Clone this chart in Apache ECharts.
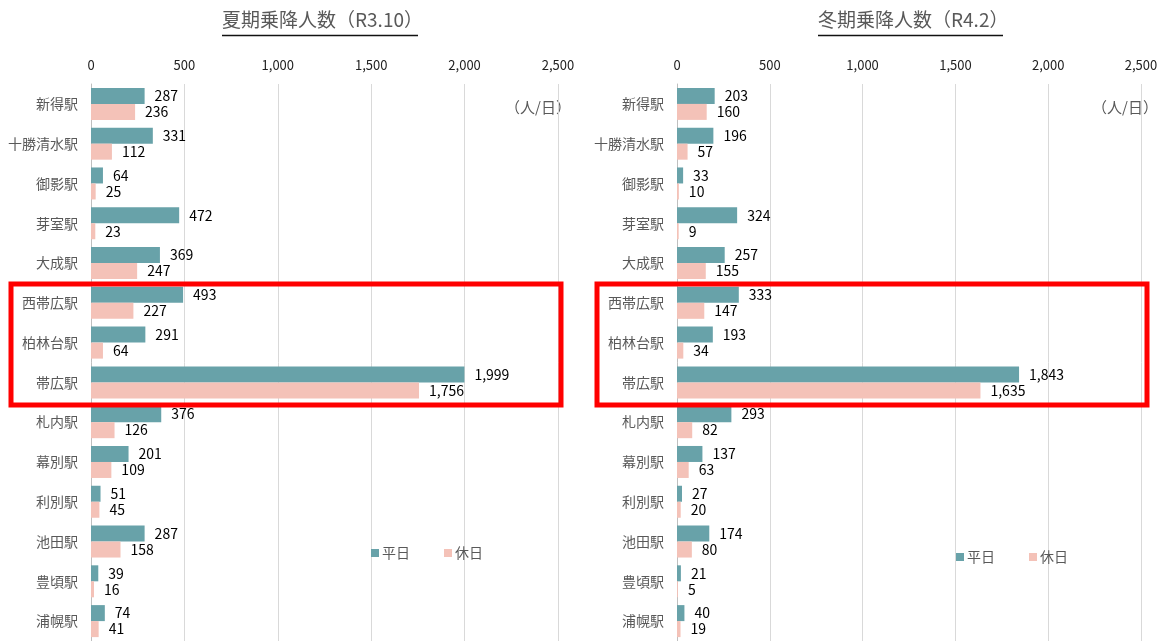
<!DOCTYPE html>
<html lang="ja">
<head>
<meta charset="UTF-8">
<title>乗降人数</title>
<script src="https://cdn.jsdelivr.net/npm/echarts@6/dist/echarts.min.js"></script>
<style>
  html, body { margin: 0; padding: 0; background: #fff; }
  #chart { width: 1166px; height: 641px; }
</style>
</head>
<body>
<div id="chart"></div>
<script>
// 駅名
const stations = ['新得駅', '十勝清水駅', '御影駅', '芽室駅', '大成駅', '西帯広駅', '柏林台駅',
  '帯広駅', '札内駅', '幕別駅', '利別駅', '池田駅', '豊頃駅', '浦幌駅'];
// 夏期 (R3.10)
const summerWeekday = [287, 331, 64, 472, 369, 493, 291, 1999, 376, 201, 51, 287, 39, 74];
const summerHoliday = [236, 112, 25, 23, 247, 227, 64, 1756, 126, 109, 45, 158, 16, 41];
// 冬期 (R4.2)
const winterWeekday = [203, 196, 33, 324, 257, 333, 193, 1843, 293, 137, 27, 174, 21, 40];
const winterHoliday = [160, 57, 10, 9, 155, 147, 34, 1635, 82, 63, 20, 80, 5, 19];
const seriesNames = ['平日', '休日'];

const FONT = '"Noto Sans CJK JP", "Noto Sans", sans-serif';
const TEAL = '#68a2a9';
const PINK = '#f4c2b8';
const fmt = v => Number(v).toLocaleString('en-US');

function xAxis(idx) {
  return {
    gridIndex: idx, type: 'value', position: 'top', min: 0, max: 2500, interval: 500,
    axisLine: { show: false }, axisTick: { show: false },
    axisLabel: { color: '#222', fontSize: 13, fontFamily: FONT, margin: 12, formatter: fmt },
    splitLine: { lineStyle: { color: '#d9d9d9', width: 1 } }
  };
}
function yAxis(idx) {
  return {
    gridIndex: idx, type: 'category', data: stations, inverse: true,
    axisLine: { lineStyle: { color: '#bfbfbf' } }, axisTick: { show: false },
    axisLabel: { color: '#595959', fontSize: 14, fontFamily: FONT, margin: 13 }
  };
}
function bars(name, data, color, idx) {
  return {
    name, type: 'bar', data, xAxisIndex: idx, yAxisIndex: idx,
    barWidth: 16, barGap: '0%', barCategoryGap: '20%',
    itemStyle: { color },
    label: { show: true, position: 'right', distance: 10, color: '#000', fontSize: 14,
      fontFamily: FONT, formatter: p => fmt(p.value) }
  };
}
function legend(left, top) {
  return {
    data: seriesNames, left, top, itemWidth: 8, itemHeight: 8, itemGap: 34, icon: 'rect',
    textStyle: { color: '#595959', fontSize: 14, fontFamily: FONT, padding: [0, 0, 0, -2] }
  };
}

const chart = echarts.init(document.getElementById('chart'));
chart.setOption({
  animation: false,
  grid: [
    { left: 91, top: 84, width: 467, height: 562 },
    { left: 677, top: 84, width: 464, height: 562 }
  ],
  xAxis: [xAxis(0), xAxis(1)],
  yAxis: [yAxis(0), yAxis(1)],
  legend: [legend(366, 541), legend(951, 545)],
  series: [
    bars('平日', summerWeekday, TEAL, 0),
    bars('休日', summerHoliday, PINK, 0),
    bars('平日', winterWeekday, TEAL, 1),
    bars('休日', winterHoliday, PINK, 1)
  ],
  graphic: [
    { type: 'text', left: 222, top: 10, style: { text: '夏期乗降人数（R3.10）', fill: '#595959', fontSize: 19, fontFamily: FONT } },
    { type: 'line', shape: { x1: 222, y1: 35.5, x2: 418, y2: 35.5 }, style: { stroke: '#111', lineWidth: 1.3 } },
    { type: 'text', left: 818, top: 10, style: { text: '冬期乗降人数（R4.2）', fill: '#595959', fontSize: 19, fontFamily: FONT } },
    { type: 'line', shape: { x1: 818, y1: 35.5, x2: 1003, y2: 35.5 }, style: { stroke: '#111', lineWidth: 1.3 } },
    { type: 'text', left: 505, top: 100, style: { text: '（人/日）', fill: '#595959', fontSize: 15, fontFamily: FONT } },
    { type: 'text', left: 1092, top: 100, style: { text: '（人/日）', fill: '#595959', fontSize: 15, fontFamily: FONT } },
    { type: 'rect', shape: { x: 11, y: 284, width: 550, height: 121 }, style: { fill: 'none', stroke: '#ff0000', lineWidth: 5 }, z: 100 },
    { type: 'rect', shape: { x: 597, y: 284, width: 550, height: 121 }, style: { fill: 'none', stroke: '#ff0000', lineWidth: 5 }, z: 100 }
  ]
});
</script>
</body>
</html>
